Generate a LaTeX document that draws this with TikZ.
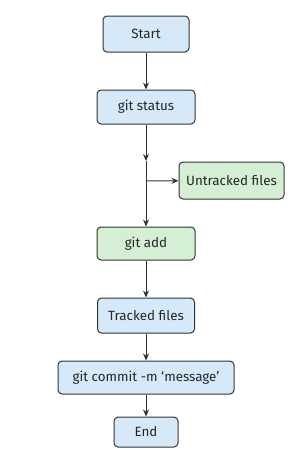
\documentclass[tikz,border=0pt]{standalone}
\usepackage{fontspec}
\setmainfont{Fira Sans}
\usetikzlibrary{arrows.meta}
\definecolor{boxblue}{HTML}{D6E9F8}
\definecolor{boxgreen}{HTML}{D5EFD5}
\definecolor{edge}{HTML}{333333}
\tikzset{
  flowbox/.style={draw=edge, line width=1pt, rounded corners=4pt, align=center,
    inner sep=0pt, font=\fontsize{13.4}{16}\selectfont, text=black!85},
  bluebox/.style={flowbox, fill=boxblue},
  greenbox/.style={flowbox, fill=boxgreen},
  conn/.style={draw=edge, line width=1pt, -{Stealth[length=7pt,width=6pt]}},
  plain/.style={draw=edge, line width=1pt}
}
\begin{document}
\begin{tikzpicture}[x=1pt,y=-1pt]
\useasboundingbox (0,0) rectangle (300,450);
\node[bluebox, minimum width=86pt, minimum height=36pt] (start) at (146,34) {Start};
\node[bluebox, minimum width=98pt, minimum height=34pt] (status) at (146,107) {git status};
\node[greenbox, minimum width=105pt, minimum height=37pt] (untracked) at (231.5,180.5) {Untracked files};
\node[greenbox, minimum width=98pt, minimum height=33pt] (add) at (146,243.5) {git add};
\node[bluebox, minimum width=97pt, minimum height=35pt] (tracked) at (146,315.5) {Tracked files};
\node[bluebox, minimum width=176pt, minimum height=33pt] (commit) at (146,377.5) {git commit -m ‘message’};
\node[bluebox, minimum width=64pt, minimum height=30pt] (end) at (146,432) {End};
\coordinate (j1) at (146,161);
\coordinate (j2) at (146,181);
\draw[conn] (start) -- (status);
\draw[conn] (status) -- (j1);
\draw[plain] (j1) -- (j2);
\draw[conn] (j2) -- (add);
\draw[conn] (j2) -- (untracked);
\draw[conn] (add) -- (tracked);
\draw[conn] (tracked) -- (commit);
\draw[conn] (commit) -- (end);
\end{tikzpicture}
\end{document}
